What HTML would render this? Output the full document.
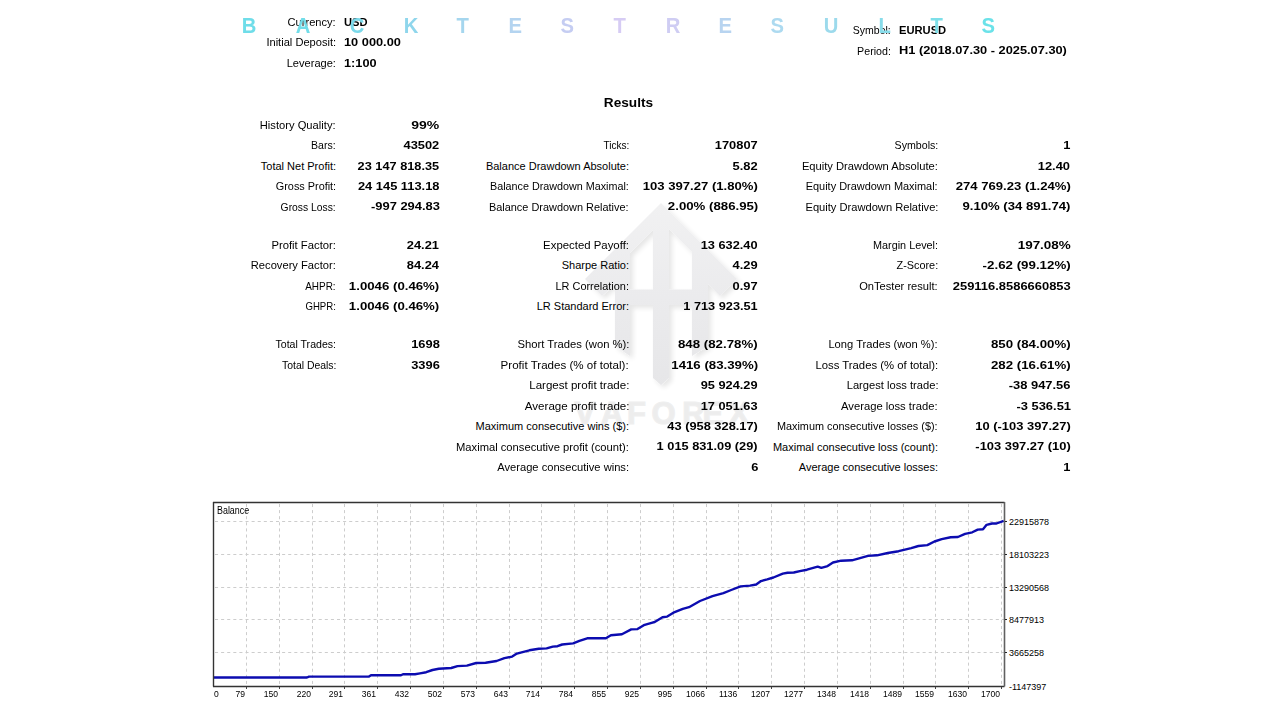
<!DOCTYPE html>
<html><head><meta charset="utf-8"><style>
html,body{margin:0;padding:0;background:#fff;}
body{width:1280px;height:720px;position:relative;overflow:hidden;font-family:"Liberation Sans",sans-serif;color:#000;}
.t{position:absolute;white-space:nowrap;line-height:14px;}
.chart,.wm{position:absolute;left:0;top:0;}
.g{stroke:#cdcdcd;stroke-width:1;stroke-dasharray:3.05 3.05;stroke-dashoffset:-1;}
.L{position:absolute;top:12.1px;font-size:22px;line-height:28px;font-weight:bold;transform:scaleX(0.92);}
</style></head><body>
<svg class="wm" width="1280" height="720" viewBox="0 0 1280 720">
<defs><filter id="sh" x="-20%" y="-20%" width="140%" height="140%"><feGaussianBlur in="SourceAlpha" stdDeviation="2.5"/><feOffset dx="3" dy="3" result="b"/><feComponentTransfer><feFuncA type="linear" slope="0.10"/></feComponentTransfer><feMerge><feMergeNode/><feMergeNode in="SourceGraphic"/></feMerge></filter>
<linearGradient id="wg" x1="0" y1="203" x2="0" y2="390" gradientUnits="userSpaceOnUse"><stop offset="0" stop-color="#f1f1f2"/><stop offset="0.5" stop-color="#ebebed"/><stop offset="1" stop-color="#e6e6e8"/></linearGradient><mask id="mk"><rect width="1280" height="720" fill="#fff"/><polygon points="630,253 653,230 653,289.5 630,289.5" fill="#000"/><polygon points="669,229 692,252 692,289.5 669,289.5" fill="#000"/></mask></defs>
<g filter="url(#sh)"><polygon points="585,279 661,203 737,279 720,296 708,284 708,346 692,356 692,305 669,305 669,378 661,385 653,378 653,305 630,305 630,356 615,346 615,284 602,296" fill="url(#wg)" mask="url(#mk)"/></g>
<text x="574.6" y="423.5" font-family="Liberation Sans" font-weight="bold" font-size="31" fill="#ededed" stroke="#efefef" stroke-width="1.2">V</text><text x="600.8" y="423.5" font-family="Liberation Sans" font-weight="bold" font-size="31" fill="#ededed" stroke="#efefef" stroke-width="1.2">A</text><text x="627.0" y="423.5" font-family="Liberation Sans" font-weight="bold" font-size="31" fill="#ededed" stroke="#efefef" stroke-width="1.2">F</text><text x="651.5" y="423.5" font-family="Liberation Sans" font-weight="bold" font-size="31" fill="#ededed" stroke="#efefef" stroke-width="1.2">O</text><text x="682.3" y="423.5" font-family="Liberation Sans" font-weight="bold" font-size="31" fill="#ededed" stroke="#efefef" stroke-width="1.2">R</text><text x="702.6" y="423.5" font-family="Liberation Sans" font-weight="bold" font-size="31" fill="#ededed" stroke="#efefef" stroke-width="1.2">E</text><text x="728.6" y="423.5" font-family="Liberation Sans" font-weight="bold" font-size="31" fill="#ededed" stroke="#efefef" stroke-width="1.2">X</text>
</svg>
<div class="t" style="top:14.79px;font-size:11px;right:944.00px;transform:scaleX(1.0084);transform-origin:100% 50%;">Currency:</div>
<div class="t" style="top:14.58px;font-size:11.6px;font-weight:bold;left:344.00px;transform:scaleX(0.9611);transform-origin:0 50%;">USD</div>
<div class="t" style="top:35.44px;font-size:11px;right:944.00px;transform:scaleX(1.0087);transform-origin:100% 50%;">Initial Deposit:</div>
<div class="t" style="top:35.23px;font-size:11.6px;font-weight:bold;left:344.00px;transform:scaleX(1.1027);transform-origin:0 50%;">10 000.00</div>
<div class="t" style="top:56.09px;font-size:11px;right:944.00px;transform:scaleX(1.0061);transform-origin:100% 50%;">Leverage:</div>
<div class="t" style="top:55.88px;font-size:11.6px;font-weight:bold;left:344.00px;transform:scaleX(1.0976);transform-origin:0 50%;">1:100</div>
<div class="t" style="top:22.94px;font-size:11px;right:389.00px;transform:scaleX(0.9547);transform-origin:100% 50%;">Symbol:</div>
<div class="t" style="top:22.73px;font-size:11.6px;font-weight:bold;left:899.00px;transform:scaleX(0.9634);transform-origin:0 50%;">EURUSD</div>
<div class="t" style="top:43.59px;font-size:11px;right:389.00px;transform:scaleX(0.9685);transform-origin:100% 50%;">Period:</div>
<div class="t" style="top:43.38px;font-size:11.6px;font-weight:bold;left:899.00px;transform:scaleX(1.1036);transform-origin:0 50%;">H1 (2018.07.30 - 2025.07.30)</div>
<div class="t" style="top:96.10px;font-size:13px;font-weight:bold;left:605.22px;transform:scaleX(1.0500);transform-origin:50% 50%;">Results</div>
<div class="t" style="top:117.94px;font-size:11px;right:944.00px;transform:scaleX(1.0161);transform-origin:100% 50%;">History Quality:</div>
<div class="t" style="top:117.73px;font-size:11.6px;font-weight:bold;right:840.50px;transform:scaleX(1.2082);transform-origin:100% 50%;">99%</div>
<div class="t" style="top:138.39px;font-size:11px;right:944.00px;transform:scaleX(0.9572);transform-origin:100% 50%;">Bars:</div>
<div class="t" style="top:138.18px;font-size:11.6px;font-weight:bold;right:840.50px;transform:scaleX(1.1084);transform-origin:100% 50%;">43502</div>
<div class="t" style="top:138.39px;font-size:11px;right:651.00px;transform:scaleX(0.9152);transform-origin:100% 50%;">Ticks:</div>
<div class="t" style="top:138.18px;font-size:11.6px;font-weight:bold;right:522.00px;transform:scaleX(1.1084);transform-origin:100% 50%;">170807</div>
<div class="t" style="top:138.39px;font-size:11px;right:342.00px;transform:scaleX(0.9646);transform-origin:100% 50%;">Symbols:</div>
<div class="t" style="top:138.18px;font-size:11.6px;font-weight:bold;right:209.50px;transform:scaleX(1.1084);transform-origin:100% 50%;">1</div>
<div class="t" style="top:158.79px;font-size:11px;right:944.00px;">Total Net Profit:</div>
<div class="t" style="top:158.58px;font-size:11.6px;font-weight:bold;right:840.50px;transform:scaleX(1.0997);transform-origin:100% 50%;">23 147 818.35</div>
<div class="t" style="top:158.79px;font-size:11px;right:651.00px;">Balance Drawdown Absolute:</div>
<div class="t" style="top:158.58px;font-size:11.6px;font-weight:bold;right:522.00px;transform:scaleX(1.1109);transform-origin:100% 50%;">5.82</div>
<div class="t" style="top:158.79px;font-size:11px;right:342.00px;transform:scaleX(1.0157);transform-origin:100% 50%;">Equity Drawdown Absolute:</div>
<div class="t" style="top:158.58px;font-size:11.6px;font-weight:bold;right:209.50px;transform:scaleX(1.1104);transform-origin:100% 50%;">12.40</div>
<div class="t" style="top:179.19px;font-size:11px;right:944.00px;transform:scaleX(0.9869);transform-origin:100% 50%;">Gross Profit:</div>
<div class="t" style="top:178.98px;font-size:11.6px;font-weight:bold;right:840.50px;transform:scaleX(1.1093);transform-origin:100% 50%;">24 145 113.18</div>
<div class="t" style="top:179.19px;font-size:11px;right:651.00px;transform:scaleX(0.9788);transform-origin:100% 50%;">Balance Drawdown Maximal:</div>
<div class="t" style="top:178.98px;font-size:11.6px;font-weight:bold;right:522.00px;transform:scaleX(1.1299);transform-origin:100% 50%;">103 397.27 (1.80%)</div>
<div class="t" style="top:179.19px;font-size:11px;right:342.00px;transform:scaleX(0.9947);transform-origin:100% 50%;">Equity Drawdown Maximal:</div>
<div class="t" style="top:178.98px;font-size:11.6px;font-weight:bold;right:209.50px;transform:scaleX(1.1299);transform-origin:100% 50%;">274 769.23 (1.24%)</div>
<div class="t" style="top:199.69px;font-size:11px;right:944.00px;transform:scaleX(0.9387);transform-origin:100% 50%;">Gross Loss:</div>
<div class="t" style="top:199.48px;font-size:11.6px;font-weight:bold;right:840.50px;transform:scaleX(1.1127);transform-origin:100% 50%;">-997 294.83</div>
<div class="t" style="top:199.69px;font-size:11px;right:651.00px;transform:scaleX(0.9936);transform-origin:100% 50%;">Balance Drawdown Relative:</div>
<div class="t" style="top:199.48px;font-size:11.6px;font-weight:bold;right:522.00px;transform:scaleX(1.1404);transform-origin:100% 50%;">2.00% (886.95)</div>
<div class="t" style="top:199.69px;font-size:11px;right:342.00px;transform:scaleX(1.0114);transform-origin:100% 50%;">Equity Drawdown Relative:</div>
<div class="t" style="top:199.48px;font-size:11.6px;font-weight:bold;right:209.50px;transform:scaleX(1.1314);transform-origin:100% 50%;">9.10% (34 891.74)</div>
<div class="t" style="top:237.94px;font-size:11px;right:944.00px;transform:scaleX(1.0254);transform-origin:100% 50%;">Profit Factor:</div>
<div class="t" style="top:237.73px;font-size:11.6px;font-weight:bold;right:840.50px;transform:scaleX(1.1104);transform-origin:100% 50%;">24.21</div>
<div class="t" style="top:237.94px;font-size:11px;right:651.00px;transform:scaleX(1.0349);transform-origin:100% 50%;">Expected Payoff:</div>
<div class="t" style="top:237.73px;font-size:11.6px;font-weight:bold;right:522.00px;transform:scaleX(1.1027);transform-origin:100% 50%;">13 632.40</div>
<div class="t" style="top:237.94px;font-size:11px;right:342.00px;transform:scaleX(0.9848);transform-origin:100% 50%;">Margin Level:</div>
<div class="t" style="top:237.73px;font-size:11.6px;font-weight:bold;right:209.50px;transform:scaleX(1.1602);transform-origin:100% 50%;">197.08%</div>
<div class="t" style="top:258.39px;font-size:11px;right:944.00px;transform:scaleX(1.0143);transform-origin:100% 50%;">Recovery Factor:</div>
<div class="t" style="top:258.18px;font-size:11.6px;font-weight:bold;right:840.50px;transform:scaleX(1.1104);transform-origin:100% 50%;">84.24</div>
<div class="t" style="top:258.39px;font-size:11px;right:651.00px;">Sharpe Ratio:</div>
<div class="t" style="top:258.18px;font-size:11.6px;font-weight:bold;right:522.00px;transform:scaleX(1.1109);transform-origin:100% 50%;">4.29</div>
<div class="t" style="top:258.39px;font-size:11px;right:342.00px;transform:scaleX(0.9882);transform-origin:100% 50%;">Z-Score:</div>
<div class="t" style="top:258.18px;font-size:11.6px;font-weight:bold;right:209.50px;transform:scaleX(1.1488);transform-origin:100% 50%;">-2.62 (99.12%)</div>
<div class="t" style="top:278.79px;font-size:11px;right:944.00px;transform:scaleX(0.9048);transform-origin:100% 50%;">AHPR:</div>
<div class="t" style="top:278.58px;font-size:11.6px;font-weight:bold;right:840.50px;transform:scaleX(1.1404);transform-origin:100% 50%;">1.0046 (0.46%)</div>
<div class="t" style="top:278.79px;font-size:11px;right:651.00px;transform:scaleX(0.9932);transform-origin:100% 50%;">LR Correlation:</div>
<div class="t" style="top:278.58px;font-size:11.6px;font-weight:bold;right:522.00px;transform:scaleX(1.1109);transform-origin:100% 50%;">0.97</div>
<div class="t" style="top:278.79px;font-size:11px;right:342.00px;transform:scaleX(1.0103);transform-origin:100% 50%;">OnTester result:</div>
<div class="t" style="top:278.58px;font-size:11.6px;font-weight:bold;right:209.50px;transform:scaleX(1.1156);transform-origin:100% 50%;">259116.8586660853</div>
<div class="t" style="top:299.19px;font-size:11px;right:944.00px;transform:scaleX(0.8736);transform-origin:100% 50%;">GHPR:</div>
<div class="t" style="top:298.98px;font-size:11.6px;font-weight:bold;right:840.50px;transform:scaleX(1.1404);transform-origin:100% 50%;">1.0046 (0.46%)</div>
<div class="t" style="top:299.19px;font-size:11px;right:651.00px;">LR Standard Error:</div>
<div class="t" style="top:298.98px;font-size:11.6px;font-weight:bold;right:522.00px;transform:scaleX(1.0989);transform-origin:100% 50%;">1 713 923.51</div>
<div class="t" style="top:337.49px;font-size:11px;right:944.00px;transform:scaleX(0.9603);transform-origin:100% 50%;">Total Trades:</div>
<div class="t" style="top:337.28px;font-size:11.6px;font-weight:bold;right:840.50px;transform:scaleX(1.1084);transform-origin:100% 50%;">1698</div>
<div class="t" style="top:337.49px;font-size:11px;right:651.00px;transform:scaleX(1.0238);transform-origin:100% 50%;">Short Trades (won %):</div>
<div class="t" style="top:337.28px;font-size:11.6px;font-weight:bold;right:522.00px;transform:scaleX(1.1440);transform-origin:100% 50%;">848 (82.78%)</div>
<div class="t" style="top:337.49px;font-size:11px;right:342.00px;transform:scaleX(1.0149);transform-origin:100% 50%;">Long Trades (won %):</div>
<div class="t" style="top:337.28px;font-size:11.6px;font-weight:bold;right:209.50px;transform:scaleX(1.1440);transform-origin:100% 50%;">850 (84.00%)</div>
<div class="t" style="top:357.94px;font-size:11px;right:944.00px;transform:scaleX(0.9478);transform-origin:100% 50%;">Total Deals:</div>
<div class="t" style="top:357.73px;font-size:11.6px;font-weight:bold;right:840.50px;transform:scaleX(1.1084);transform-origin:100% 50%;">3396</div>
<div class="t" style="top:357.94px;font-size:11px;right:651.00px;transform:scaleX(1.0526);transform-origin:100% 50%;">Profit Trades (% of total):</div>
<div class="t" style="top:357.73px;font-size:11.6px;font-weight:bold;right:522.00px;transform:scaleX(1.1410);transform-origin:100% 50%;">1416 (83.39%)</div>
<div class="t" style="top:357.94px;font-size:11px;right:342.00px;transform:scaleX(1.0302);transform-origin:100% 50%;">Loss Trades (% of total):</div>
<div class="t" style="top:357.73px;font-size:11.6px;font-weight:bold;right:209.50px;transform:scaleX(1.1440);transform-origin:100% 50%;">282 (16.61%)</div>
<div class="t" style="top:378.39px;font-size:11px;right:651.00px;transform:scaleX(1.0503);transform-origin:100% 50%;">Largest profit trade:</div>
<div class="t" style="top:378.18px;font-size:11.6px;font-weight:bold;right:522.00px;transform:scaleX(1.1027);transform-origin:100% 50%;">95 924.29</div>
<div class="t" style="top:378.39px;font-size:11px;right:342.00px;transform:scaleX(1.0144);transform-origin:100% 50%;">Largest loss trade:</div>
<div class="t" style="top:378.18px;font-size:11.6px;font-weight:bold;right:209.50px;transform:scaleX(1.1132);transform-origin:100% 50%;">-38 947.56</div>
<div class="t" style="top:398.79px;font-size:11px;right:651.00px;transform:scaleX(1.0523);transform-origin:100% 50%;">Average profit trade:</div>
<div class="t" style="top:398.58px;font-size:11.6px;font-weight:bold;right:522.00px;transform:scaleX(1.1027);transform-origin:100% 50%;">17 051.63</div>
<div class="t" style="top:398.79px;font-size:11px;right:342.00px;transform:scaleX(1.0211);transform-origin:100% 50%;">Average loss trade:</div>
<div class="t" style="top:398.58px;font-size:11.6px;font-weight:bold;right:209.50px;transform:scaleX(1.1138);transform-origin:100% 50%;">-3 536.51</div>
<div class="t" style="top:419.19px;font-size:11px;right:651.00px;">Maximum consecutive wins ($):</div>
<div class="t" style="top:418.98px;font-size:11.6px;font-weight:bold;right:522.00px;transform:scaleX(1.1062);transform-origin:100% 50%;">43 (958 328.17)</div>
<div class="t" style="top:419.19px;font-size:11px;right:342.00px;transform:scaleX(0.9883);transform-origin:100% 50%;">Maximum consecutive losses ($):</div>
<div class="t" style="top:418.98px;font-size:11.6px;font-weight:bold;right:209.50px;transform:scaleX(1.1128);transform-origin:100% 50%;">10 (-103 397.27)</div>
<div class="t" style="top:439.69px;font-size:11px;right:651.00px;transform:scaleX(1.0177);transform-origin:100% 50%;">Maximal consecutive profit (count):</div>
<div class="t" style="top:439.48px;font-size:11.6px;font-weight:bold;right:522.00px;transform:scaleX(1.1026);transform-origin:100% 50%;">1 015 831.09 (29)</div>
<div class="t" style="top:439.69px;font-size:11px;right:342.00px;">Maximal consecutive loss (count):</div>
<div class="t" style="top:439.48px;font-size:11.6px;font-weight:bold;right:209.50px;transform:scaleX(1.1128);transform-origin:100% 50%;">-103 397.27 (10)</div>
<div class="t" style="top:460.19px;font-size:11px;right:651.00px;transform:scaleX(1.0138);transform-origin:100% 50%;">Average consecutive wins:</div>
<div class="t" style="top:459.98px;font-size:11.6px;font-weight:bold;right:522.00px;transform:scaleX(1.1084);transform-origin:100% 50%;">6</div>
<div class="t" style="top:460.19px;font-size:11px;right:342.00px;">Average consecutive losses:</div>
<div class="t" style="top:459.98px;font-size:11.6px;font-weight:bold;right:209.50px;transform:scaleX(1.1084);transform-origin:100% 50%;">1</div>
<svg class="chart" width="1280" height="720" viewBox="0 0 1280 720"><line x1="246.5" y1="503" x2="246.5" y2="686" class="g"/>
<line x1="279.5" y1="503" x2="279.5" y2="686" class="g"/>
<line x1="312.5" y1="503" x2="312.5" y2="686" class="g"/>
<line x1="344.5" y1="503" x2="344.5" y2="686" class="g"/>
<line x1="377.5" y1="503" x2="377.5" y2="686" class="g"/>
<line x1="410.5" y1="503" x2="410.5" y2="686" class="g"/>
<line x1="443.5" y1="503" x2="443.5" y2="686" class="g"/>
<line x1="476.5" y1="503" x2="476.5" y2="686" class="g"/>
<line x1="509.5" y1="503" x2="509.5" y2="686" class="g"/>
<line x1="541.5" y1="503" x2="541.5" y2="686" class="g"/>
<line x1="574.5" y1="503" x2="574.5" y2="686" class="g"/>
<line x1="607.5" y1="503" x2="607.5" y2="686" class="g"/>
<line x1="640.5" y1="503" x2="640.5" y2="686" class="g"/>
<line x1="673.5" y1="503" x2="673.5" y2="686" class="g"/>
<line x1="706.5" y1="503" x2="706.5" y2="686" class="g"/>
<line x1="738.5" y1="503" x2="738.5" y2="686" class="g"/>
<line x1="771.5" y1="503" x2="771.5" y2="686" class="g"/>
<line x1="804.5" y1="503" x2="804.5" y2="686" class="g"/>
<line x1="837.5" y1="503" x2="837.5" y2="686" class="g"/>
<line x1="870.5" y1="503" x2="870.5" y2="686" class="g"/>
<line x1="903.5" y1="503" x2="903.5" y2="686" class="g"/>
<line x1="935.5" y1="503" x2="935.5" y2="686" class="g"/>
<line x1="968.5" y1="503" x2="968.5" y2="686" class="g"/>
<line x1="1001.5" y1="503" x2="1001.5" y2="686" class="g"/>
<line x1="214" y1="521.5" x2="1004" y2="521.5" class="g"/>
<line x1="214" y1="554.5" x2="1004" y2="554.5" class="g"/>
<line x1="214" y1="587.5" x2="1004" y2="587.5" class="g"/>
<line x1="214" y1="619.5" x2="1004" y2="619.5" class="g"/>
<line x1="214" y1="652.5" x2="1004" y2="652.5" class="g"/>
<polyline points="213.0,677.5 307.0,677.5 309.0,676.6 369.0,676.6 371.0,675.3 401.0,675.3 403.0,674.3 415.0,674.3 420.0,673.4 426.2,672.2 432.5,670.0 438.8,668.8 451.2,668.0 457.5,666.1 466.9,665.6 476.2,663.0 485.6,662.8 496.6,661.0 504.4,658.1 512.2,656.6 516.9,653.6 521.6,652.3 529.4,650.3 538.8,648.8 546.6,648.4 552.8,646.6 557.5,646.2 562.2,644.5 573.1,643.4 579.4,640.9 587.2,638.3 605.9,638.3 610.9,635.3 621.9,634.2 631.2,629.4 637.5,629.1 643.8,625.2 651.6,622.8 654.7,622.0 662.5,617.3 667.2,616.6 673.4,612.7 682.8,608.8 689.0,607.2 700.0,601.0 712.5,596.2 723.4,593.1 731.2,590.0 740.6,586.4 750.0,585.6 756.2,584.5 761.0,581.1 767.2,579.4 773.4,577.5 782.8,573.6 787.5,572.8 793.8,572.5 799.8,571.1 807.0,569.7 817.7,566.6 821.3,567.9 827.6,566.1 833.0,562.5 841.1,560.7 851.9,560.3 857.3,558.9 868.0,555.9 877.0,555.3 887.8,553.0 898.6,551.2 911.2,548.1 918.4,546.0 927.3,545.1 934.5,541.5 941.7,539.1 950.7,537.3 957.9,537.0 965.1,533.8 972.3,532.3 977.7,529.6 983.0,529.3 986.6,524.8 992.0,523.5 996.5,523.5 1003.7,520.8" fill="none" stroke="#0c0cb0" stroke-width="2.4" stroke-linejoin="round"/>
<line x1="213" y1="502.5" x2="1004.5" y2="502.5" stroke="#333" stroke-width="1.4"/>
<line x1="213.5" y1="502" x2="213.5" y2="686.5" stroke="#333" stroke-width="1.4"/>
<line x1="213" y1="686.5" x2="1004.5" y2="686.5" stroke="#333" stroke-width="1.4"/>
<line x1="1004.5" y1="502" x2="1004.5" y2="686.5" stroke="#606060" stroke-width="1.6"/>
<line x1="246.5" y1="687" x2="246.5" y2="689" stroke="#444"/>
<line x1="279.5" y1="687" x2="279.5" y2="689" stroke="#444"/>
<line x1="312.5" y1="687" x2="312.5" y2="689" stroke="#444"/>
<line x1="344.5" y1="687" x2="344.5" y2="689" stroke="#444"/>
<line x1="377.5" y1="687" x2="377.5" y2="689" stroke="#444"/>
<line x1="410.5" y1="687" x2="410.5" y2="689" stroke="#444"/>
<line x1="443.5" y1="687" x2="443.5" y2="689" stroke="#444"/>
<line x1="476.5" y1="687" x2="476.5" y2="689" stroke="#444"/>
<line x1="509.5" y1="687" x2="509.5" y2="689" stroke="#444"/>
<line x1="541.5" y1="687" x2="541.5" y2="689" stroke="#444"/>
<line x1="574.5" y1="687" x2="574.5" y2="689" stroke="#444"/>
<line x1="607.5" y1="687" x2="607.5" y2="689" stroke="#444"/>
<line x1="640.5" y1="687" x2="640.5" y2="689" stroke="#444"/>
<line x1="673.5" y1="687" x2="673.5" y2="689" stroke="#444"/>
<line x1="706.5" y1="687" x2="706.5" y2="689" stroke="#444"/>
<line x1="738.5" y1="687" x2="738.5" y2="689" stroke="#444"/>
<line x1="771.5" y1="687" x2="771.5" y2="689" stroke="#444"/>
<line x1="804.5" y1="687" x2="804.5" y2="689" stroke="#444"/>
<line x1="837.5" y1="687" x2="837.5" y2="689" stroke="#444"/>
<line x1="870.5" y1="687" x2="870.5" y2="689" stroke="#444"/>
<line x1="903.5" y1="687" x2="903.5" y2="689" stroke="#444"/>
<line x1="935.5" y1="687" x2="935.5" y2="689" stroke="#444"/>
<line x1="968.5" y1="687" x2="968.5" y2="689" stroke="#444"/>
<line x1="1001.5" y1="687" x2="1001.5" y2="689" stroke="#444"/>
<line x1="1005" y1="521.5" x2="1007" y2="521.5" stroke="#222"/>
<line x1="1005" y1="554.5" x2="1007" y2="554.5" stroke="#222"/>
<line x1="1005" y1="587.5" x2="1007" y2="587.5" stroke="#222"/>
<line x1="1005" y1="619.5" x2="1007" y2="619.5" stroke="#222"/>
<line x1="1005" y1="652.5" x2="1007" y2="652.5" stroke="#222"/></svg>
<div class="t" style="top:686.58px;font-size:9px;left:214.00px;transform:scaleX(0.95);transform-origin:0 50%;">0</div>
<div class="t" style="top:686.58px;font-size:9px;right:1034.80px;transform:scaleX(0.95);transform-origin:100% 50%;">79</div>
<div class="t" style="top:686.58px;font-size:9px;right:1001.80px;transform:scaleX(0.95);transform-origin:100% 50%;">150</div>
<div class="t" style="top:686.58px;font-size:9px;right:968.80px;transform:scaleX(0.95);transform-origin:100% 50%;">220</div>
<div class="t" style="top:686.58px;font-size:9px;right:936.80px;transform:scaleX(0.95);transform-origin:100% 50%;">291</div>
<div class="t" style="top:686.58px;font-size:9px;right:903.80px;transform:scaleX(0.95);transform-origin:100% 50%;">361</div>
<div class="t" style="top:686.58px;font-size:9px;right:870.80px;transform:scaleX(0.95);transform-origin:100% 50%;">432</div>
<div class="t" style="top:686.58px;font-size:9px;right:837.80px;transform:scaleX(0.95);transform-origin:100% 50%;">502</div>
<div class="t" style="top:686.58px;font-size:9px;right:804.80px;transform:scaleX(0.95);transform-origin:100% 50%;">573</div>
<div class="t" style="top:686.58px;font-size:9px;right:771.80px;transform:scaleX(0.95);transform-origin:100% 50%;">643</div>
<div class="t" style="top:686.58px;font-size:9px;right:739.80px;transform:scaleX(0.95);transform-origin:100% 50%;">714</div>
<div class="t" style="top:686.58px;font-size:9px;right:706.80px;transform:scaleX(0.95);transform-origin:100% 50%;">784</div>
<div class="t" style="top:686.58px;font-size:9px;right:673.80px;transform:scaleX(0.95);transform-origin:100% 50%;">855</div>
<div class="t" style="top:686.58px;font-size:9px;right:640.80px;transform:scaleX(0.95);transform-origin:100% 50%;">925</div>
<div class="t" style="top:686.58px;font-size:9px;right:607.80px;transform:scaleX(0.95);transform-origin:100% 50%;">995</div>
<div class="t" style="top:686.58px;font-size:9px;right:574.80px;transform:scaleX(0.95);transform-origin:100% 50%;">1066</div>
<div class="t" style="top:686.58px;font-size:9px;right:542.80px;transform:scaleX(0.95);transform-origin:100% 50%;">1136</div>
<div class="t" style="top:686.58px;font-size:9px;right:509.80px;transform:scaleX(0.95);transform-origin:100% 50%;">1207</div>
<div class="t" style="top:686.58px;font-size:9px;right:476.80px;transform:scaleX(0.95);transform-origin:100% 50%;">1277</div>
<div class="t" style="top:686.58px;font-size:9px;right:443.80px;transform:scaleX(0.95);transform-origin:100% 50%;">1348</div>
<div class="t" style="top:686.58px;font-size:9px;right:410.80px;transform:scaleX(0.95);transform-origin:100% 50%;">1418</div>
<div class="t" style="top:686.58px;font-size:9px;right:377.80px;transform:scaleX(0.95);transform-origin:100% 50%;">1489</div>
<div class="t" style="top:686.58px;font-size:9px;right:345.80px;transform:scaleX(0.95);transform-origin:100% 50%;">1559</div>
<div class="t" style="top:686.58px;font-size:9px;right:312.80px;transform:scaleX(0.95);transform-origin:100% 50%;">1630</div>
<div class="t" style="top:686.58px;font-size:9px;right:279.80px;transform:scaleX(0.95);transform-origin:100% 50%;">1700</div>
<div class="t" style="top:515.18px;font-size:9px;left:1009.00px;">22915878</div>
<div class="t" style="top:548.18px;font-size:9px;left:1009.00px;">18103223</div>
<div class="t" style="top:581.18px;font-size:9px;left:1009.00px;">13290568</div>
<div class="t" style="top:613.18px;font-size:9px;left:1009.00px;">8477913</div>
<div class="t" style="top:646.18px;font-size:9px;left:1009.00px;">3665258</div>
<div class="t" style="top:680.18px;font-size:9px;left:1009.00px;">-1147397</div>
<div class="t" style="top:504.24px;font-size:10px;left:217.00px;transform:scaleX(0.89);transform-origin:0 50%;">Balance</div>
<div class="L" style="left:241.06px;color:#6fdde9;transform-origin:7.94px 50%">B</div>
<div class="L" style="left:294.66px;color:#72dde9;transform-origin:7.94px 50%">A</div>
<div class="L" style="left:349.06px;color:#7ad9ea;transform-origin:7.94px 50%">C</div>
<div class="L" style="left:403.26px;color:#8fd6ec;transform-origin:7.94px 50%">K</div>
<div class="L" style="left:456.39px;color:#a5d6ee;transform-origin:6.71px 50%">T</div>
<div class="L" style="left:508.25px;color:#b4d4f0;transform-origin:7.35px 50%">E</div>
<div class="L" style="left:560.05px;color:#c5cdf2;transform-origin:7.35px 50%">S</div>
<div class="L" style="left:612.69px;color:#d6ccf4;transform-origin:6.71px 50%">T</div>
<div class="L" style="left:664.76px;color:#cfcdf3;transform-origin:7.94px 50%">R</div>
<div class="L" style="left:717.85px;color:#b8d4f0;transform-origin:7.35px 50%">E</div>
<div class="L" style="left:769.75px;color:#addaf0;transform-origin:7.35px 50%">S</div>
<div class="L" style="left:822.96px;color:#9cdaec;transform-origin:7.94px 50%">U</div>
<div class="L" style="left:878.09px;color:#88dcea;transform-origin:6.71px 50%">L</div>
<div class="L" style="left:929.59px;color:#7ddfe9;transform-origin:6.71px 50%">T</div>
<div class="L" style="left:980.55px;color:#6be2e9;transform-origin:7.35px 50%">S</div>
</body></html>
